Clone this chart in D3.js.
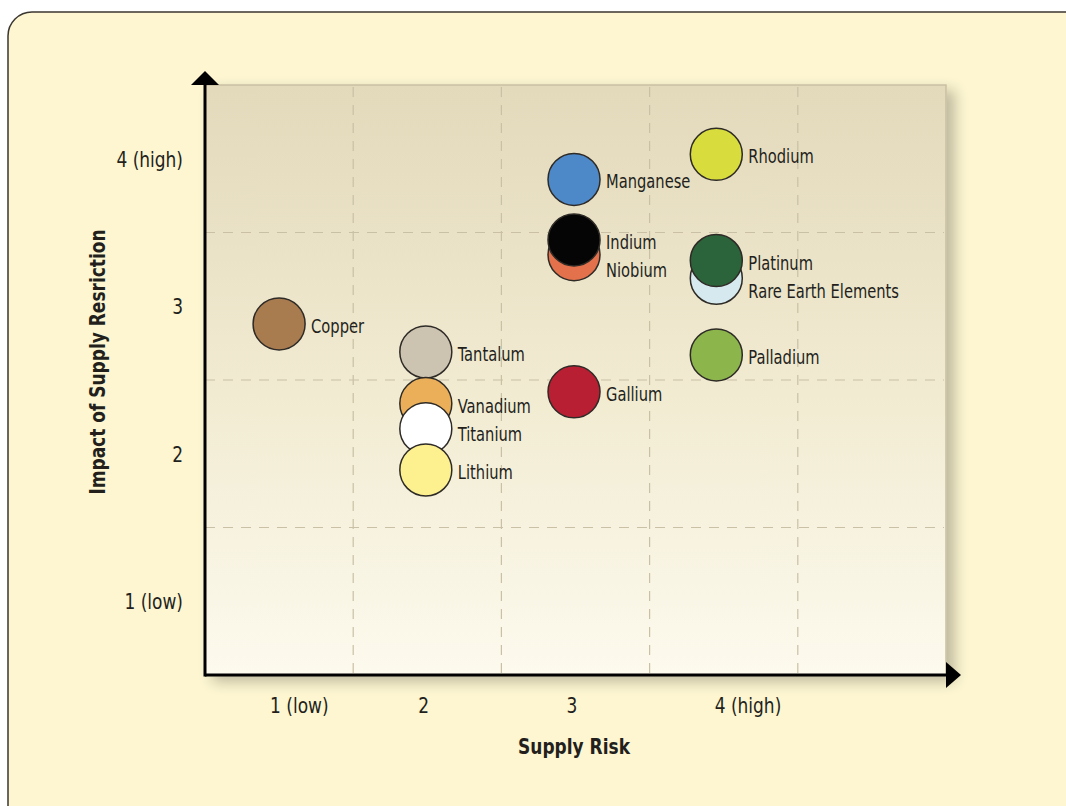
<!DOCTYPE html>
<html>
<head>
<meta charset="utf-8">
<script src="https://cdn.jsdelivr.net/npm/d3@7"></script>
<style>
  body { margin: 0; background: #fff; }
  svg { display: block; }
  text { font-family: "DejaVu Sans Condensed", "Liberation Sans Narrow", "Roboto", sans-serif; fill: #231f1c; }
</style>
</head>
<body>
<script>
// data
var metals = ["Copper", "Tantalum", "Vanadium", "Titanium", "Lithium", "Manganese",
              "Niobium", "Indium", "Gallium", "Rhodium", "Rare Earth Elements", "Platinum", "Palladium"];
var supplyRisk = [1.0, 1.99, 1.99, 1.99, 1.99, 2.99, 2.99, 2.99, 2.99, 3.95, 3.95, 3.95, 3.95];
var impact = [2.88, 2.69, 2.34, 2.17, 1.89, 3.86, 3.35, 3.45, 2.42, 4.03, 3.19, 3.31, 2.67];
var colors = ["#a97c50", "#cdc3b1", "#eaaf58", "#ffffff", "#fdf08f", "#4d88c8",
              "#e2714c", "#050505", "#b91f33", "#d8dc3c", "#d6e9ee", "#2b643a", "#8cb64c"];

var xTicks = [1, 2, 3, 4];
var xTickLabels = ["1 (low)", "2", "3", "4 (high)"];
var yTicks = [1, 2, 3, 4];
var yTickLabels = ["1 (low)", "2", "3", "4 (high)"];
var gridVals = [1.5, 2.5, 3.5, 4.5];

var width = 1066, height = 806;
var plot = {left: 205, right: 946, top: 85, bottom: 675};
var squeeze = 0.86;   // narrow the type a bit, the original face is condensed

var x = d3.scaleLinear().domain([0.5, 5.5]).range([plot.left, plot.right]);
var y = d3.scaleLinear().domain([0.5, 4.5]).range([plot.bottom, plot.top]);

var svg = d3.select("body").append("svg")
    .attr("width", width)
    .attr("height", height);

var defs = svg.append("defs");
var grad = defs.append("linearGradient")
    .attr("id", "bg").attr("x1", 0).attr("y1", 0).attr("x2", 0).attr("y2", 1);
grad.append("stop").attr("offset", "0%").attr("stop-color", "#e3d9bb");
grad.append("stop").attr("offset", "55%").attr("stop-color", "#f2ecd3");
grad.append("stop").attr("offset", "100%").attr("stop-color", "#fdfaee");

var shadow = defs.append("filter").attr("id", "shadow")
    .attr("x", "-10%").attr("y", "-10%").attr("width", "130%").attr("height", "130%");
shadow.append("feGaussianBlur").attr("in", "SourceAlpha").attr("stdDeviation", 7);
shadow.append("feOffset").attr("dx", 8).attr("dy", 6).attr("result", "off");
shadow.append("feComponentTransfer").append("feFuncA").attr("type", "linear").attr("slope", 0.25);
var merge = shadow.append("feMerge");
merge.append("feMergeNode");
merge.append("feMergeNode").attr("in", "SourceGraphic");

// page card
svg.append("rect")
    .attr("x", 8).attr("y", 12)
    .attr("width", 1090).attr("height", 820)
    .attr("rx", 24)
    .attr("fill", "#fdf6d1")
    .attr("stroke", "#3a3630")
    .attr("stroke-width", 1.5);

// plot background
svg.append("rect")
    .attr("x", plot.left).attr("y", plot.top)
    .attr("width", plot.right - plot.left).attr("height", plot.bottom - plot.top)
    .attr("fill", "url(#bg)")
    .attr("stroke", "#c9bfa2")
    .attr("stroke-width", 1.5)
    .attr("filter", "url(#shadow)");

// grid
var grid = svg.append("g").attr("stroke", "#c9c0a6").attr("stroke-width", 1.2)
    .attr("stroke-dasharray", "10,8");
grid.selectAll(".gx").data(gridVals).enter().append("line")
    .attr("x1", function(d) { return x(d); })
    .attr("x2", function(d) { return x(d); })
    .attr("y1", plot.top + 2).attr("y2", plot.bottom);
grid.selectAll(".gy").data(gridVals.slice(0, 3)).enter().append("line")
    .attr("y1", function(d) { return y(d); })
    .attr("y2", function(d) { return y(d); })
    .attr("x1", plot.left).attr("x2", plot.right - 2);

// axes with arrow heads
svg.append("line")
    .attr("x1", plot.left).attr("x2", 948)
    .attr("y1", plot.bottom).attr("y2", plot.bottom)
    .attr("stroke", "#000").attr("stroke-width", 3);
svg.append("path")
    .attr("d", "M946," + (plot.bottom - 13) + "L961," + plot.bottom + "L946," + (plot.bottom + 13) + "Z")
    .attr("fill", "#000");
svg.append("line")
    .attr("x1", plot.left).attr("x2", plot.left)
    .attr("y1", plot.bottom + 1.5).attr("y2", 84)
    .attr("stroke", "#000").attr("stroke-width", 3);
svg.append("path")
    .attr("d", "M" + (plot.left - 14) + ",85L" + plot.left + ",71L" + (plot.left + 14) + ",85Z")
    .attr("fill", "#000");

// tick labels
svg.selectAll(".xt").data(xTicks).enter().append("text")
    .attr("transform", function(d) { return "translate(" + (x(d) - 9) + ",713) scale(" + squeeze + ",1)"; })
    .attr("text-anchor", "start")
    .attr("font-size", 22)
    .text(function(d, i) { return xTickLabels[i]; });

svg.selectAll(".yt").data(yTicks).enter().append("text")
    .attr("transform", function(d) { return "translate(183," + (y(d) + 8) + ") scale(" + squeeze + ",1)"; })
    .attr("text-anchor", "end")
    .attr("font-size", 22)
    .text(function(d, i) { return yTickLabels[i]; });

// axis titles
svg.append("text")
    .attr("transform", "translate(574,754) scale(" + squeeze + ",1)")
    .attr("text-anchor", "middle")
    .attr("font-size", 22).attr("font-weight", "bold")
    .text("Supply Risk");
svg.append("text")
    .attr("transform", "translate(105,362) rotate(-90) scale(" + squeeze + ",1)")
    .attr("text-anchor", "middle")
    .attr("font-size", 22).attr("font-weight", "bold")
    .text("Impact of Supply Resriction");

// points
var pts = metals.map(function(m, i) {
  return {name: m, x: supplyRisk[i], y: impact[i], color: colors[i]};
});

svg.append("g").selectAll("circle").data(pts).enter().append("circle")
    .attr("cx", function(d) { return x(d.x); })
    .attr("cy", function(d) { return y(d.y); })
    .attr("r", 26)
    .attr("fill", function(d) { return d.color; })
    .attr("stroke", "#2e2a26")
    .attr("stroke-width", 1.5);

// labels: keep them from running into each other within a column
var labs = pts.map(function(d) { return {name: d.name, lx: x(d.x) + 32, ly: y(d.y) + 2}; });
d3.groups(labs, function(d) { return Math.round(d.lx); }).forEach(function(g) {
  var col = g[1].sort(function(a, b) { return a.ly - b.ly; });
  for (var i = 1; i < col.length; i++) {
    if (col[i].ly < col[i - 1].ly + 28) col[i].ly = col[i - 1].ly + 28;
  }
});

svg.append("g").selectAll("text").data(labs).enter().append("text")
    .attr("transform", function(d) { return "translate(" + d.lx + "," + (d.ly + 7) + ") scale(" + squeeze + ",1)"; })
    .attr("font-size", 19)
    .text(function(d) { return d.name; });
</script>
</body>
</html>
